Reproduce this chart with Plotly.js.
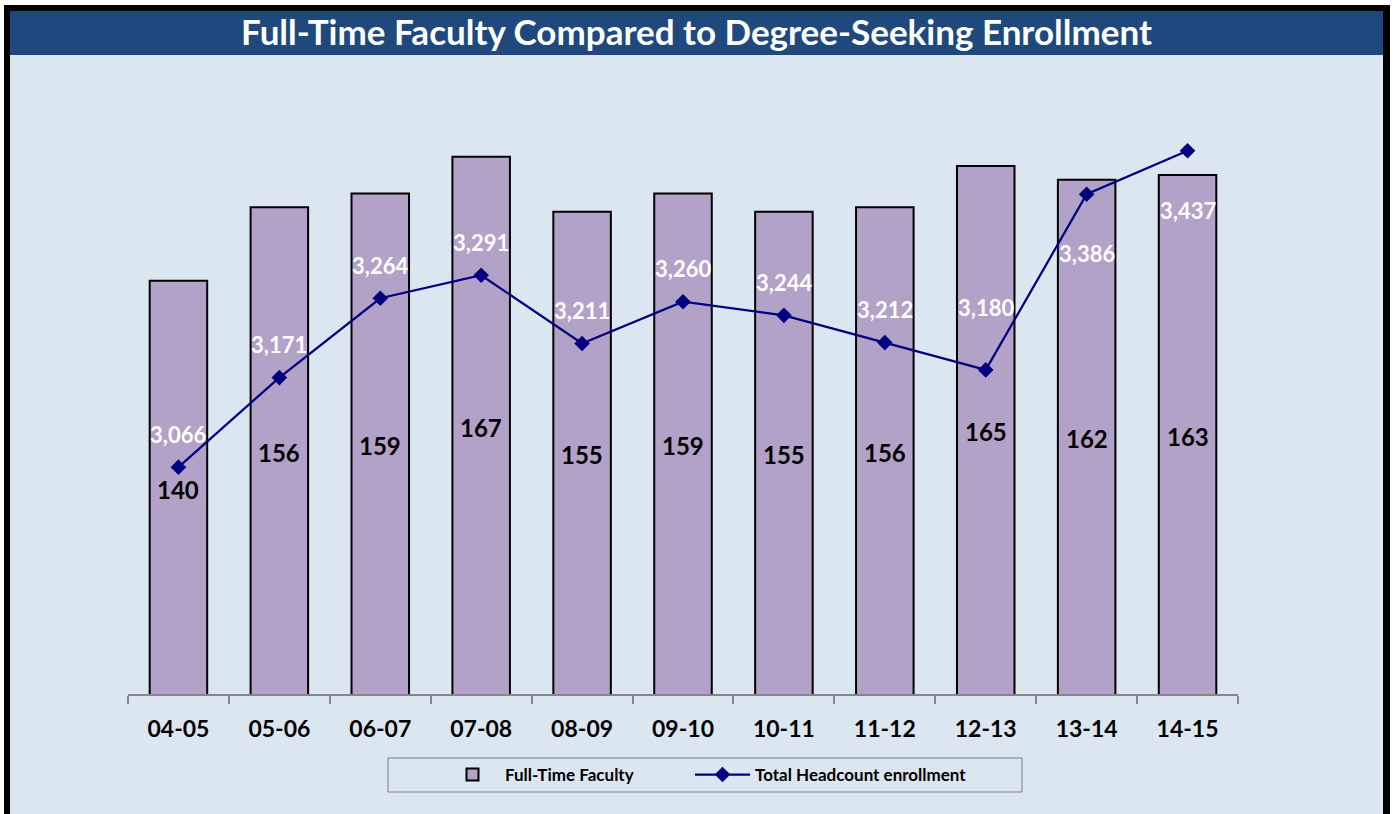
<!DOCTYPE html>
<html>
<head>
<meta charset="utf-8">
<script src="https://cdn.plot.ly/plotly-3.0.1.min.js"></script>
<style>
  html, body { margin: 0; padding: 0; background: #ffffff; overflow: hidden; }
  #frame { position: absolute; left: 4px; top: 5px; width: 1373px; height: 830px;
           border-left: 6px solid #000; border-right: 7px solid #000; border-top: 6px solid #000;
           background: #dce6f0; }
  #chart { position: absolute; left: 0; top: 0; width: 1393px; height: 814px; }
</style>
</head>
<body>
<div id="frame"></div>
<div id="chart"></div>
<script>
// ---- data ----
const categories = ['04-05','05-06','06-07','07-08','08-09','09-10','10-11','11-12','12-13','13-14','14-15'];
const faculty = [140, 156, 159, 167, 155, 159, 155, 156, 165, 162, 163];
const enrollment = [3066, 3171, 3264, 3291, 3211, 3260, 3244, 3212, 3180, 3386, 3437];
const seriesNames = ['Full-Time Faculty', 'Total Headcount enrollment'];
const chartTitle = 'Full-Time Faculty Compared to Degree-Seeking Enrollment';

// ---- layout geometry (pixels) ----
const W = 1393, H = 814;
const M = {l: 128, r: 155, t: 97, b: 120};
const PW = W - M.l - M.r, PH = H - M.t - M.b;
const px2x = p => (p - M.l) / PW;
const px2y = p => (H - M.b - p) / PH;
const Y1 = [50, 180], Y2 = [2800, 3500];
// vertical offsets of enrollment labels relative to their points (px, + = up)
const labelShift = [33, 33, 33, 33, 33, 33, 33, 33, 62, -59, -60];

const FONT = 'Lato, "Open Sans", "DejaVu Sans", sans-serif';

const bars = {
  type: 'bar', name: seriesNames[0], x: categories, y: faculty,
  width: 0.57, legend: 'legend',
  marker: {color: '#b3a2c7', line: {color: '#000000', width: 2}},
  hoverinfo: 'x+y'
};
const line = {
  type: 'scatter', mode: 'lines+markers', name: seriesNames[1], x: categories, y: enrollment,
  yaxis: 'y2', legend: 'legend2',
  line: {color: '#000080', width: 2.25},
  marker: {symbol: 'diamond', size: 12, color: '#000080'},
  cliponaxis: false
};

// bar value labels, centred on the visible part of each bar
const barLabels = faculty.map((v, i) => ({
  x: categories[i], y: (Y1[0] + v) / 2, xref: 'x', yref: 'y',
  text: String(v), showarrow: false, yanchor: 'middle', xanchor: 'center', yshift: -2,
  font: {family: FONT, size: 24, color: '#000000', weight: 'bold'}
}));
const lineLabels = enrollment.map((v, i) => ({
  x: categories[i], y: v, xref: 'x', yref: 'y2',
  text: v.toLocaleString('en-US'), showarrow: false,
  yanchor: 'middle', xanchor: 'center', yshift: labelShift[i],
  font: {family: FONT, size: 22, color: '#ffffff', weight: 'bold'}
}));

const legendBase = {
  orientation: 'h', xanchor: 'left', y: px2y(775), yanchor: 'middle',
  bgcolor: 'rgba(0,0,0,0)', borderwidth: 0, itemwidth: 55,
  font: {family: FONT, size: 17, color: '#000000', weight: 'bold'}
};

const layout = {
  width: W, height: H,
  margin: M,
  paper_bgcolor: 'rgba(0,0,0,0)', plot_bgcolor: 'rgba(0,0,0,0)',
  title: {text: '<b>' + chartTitle + '</b>', xref: 'container', x: 0.5, xanchor: 'center',
          yref: 'container', y: 1 - 33 / H, yanchor: 'middle',
          font: {family: FONT, size: 35, color: '#ffffff'}},
  xaxis: {
    type: 'category', range: [-0.5, categories.length - 0.5],
    showline: true, linecolor: '#868686', linewidth: 2,
    ticks: 'outside', tickson: 'boundaries', ticklen: 8, tickcolor: '#868686', tickwidth: 2,
    tickfont: {family: FONT, size: 23, color: '#000000', weight: 'bold'},
    ticklabelstandoff: 13,
    showgrid: false, zeroline: false, fixedrange: true
  },
  yaxis: {range: Y1, visible: false, showgrid: false, zeroline: false, fixedrange: true},
  yaxis2: {range: Y2, overlaying: 'y', side: 'right', visible: false,
           showgrid: false, zeroline: false, fixedrange: true},
  showlegend: true,
  legend: Object.assign({}, legendBase, {x: px2x(440)}),
  legend2: Object.assign({}, legendBase, {x: px2x(690)}),
  annotations: barLabels.concat(lineLabels),
  shapes: [
    {type: 'rect', xref: 'paper', yref: 'paper', layer: 'below',
     x0: px2x(10), x1: px2x(1383), y0: px2y(55), y1: px2y(11),
     fillcolor: '#1f497d', line: {width: 0}},
    {type: 'rect', xref: 'paper', yref: 'paper', layer: 'below',
     x0: px2x(388), x1: px2x(1022), y0: px2y(792), y1: px2y(758),
     fillcolor: 'rgba(0,0,0,0)', line: {color: '#7f7f7f', width: 1}}
  ]
};

Plotly.newPlot('chart', [bars, line], layout, {displayModeBar: false, staticPlot: true});
</script>
</body>
</html>
